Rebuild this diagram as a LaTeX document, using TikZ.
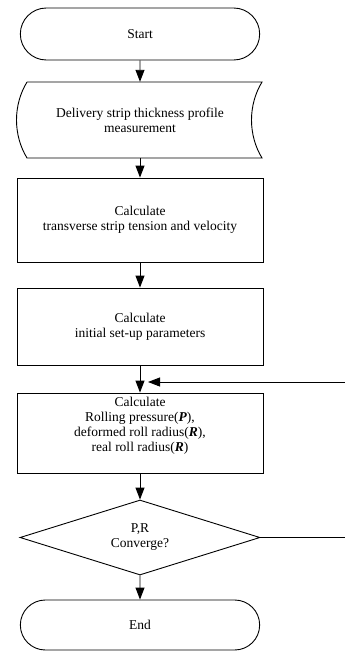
\documentclass[tikz,border=0pt]{standalone}
\usepackage{fontspec}
\setmainfont{Liberation Serif}
\usetikzlibrary{arrows.meta}
\usetikzlibrary{shapes.misc, shapes.geometric}

\begin{document}
\begin{tikzpicture}[
    x=1pt, y=-1pt,
    >={Triangle[length=12pt, width=9pt]},
    font=\fontsize{13.5}{15}\selectfont,
    % Inicio / fin (bordes redondeados)
    terminal/.style={
        draw, line width=0.9pt,
        rounded rectangle,
        minimum width=246pt
    },
    % Cajas de calculo
    process/.style={
        draw, line width=0.9pt,
        rectangle, align=center,
        minimum width=246pt
    },
    % Rombo de decision
    decision/.style={
        draw, line width=0.9pt,
        diamond, aspect=3.2, align=center, inner sep=0pt,
        minimum width=240pt, minimum height=75pt
    },
    flow/.style={->, line width=0.9pt}
]

    % marco de la figura
    \useasboundingbox (0,0) rectangle (345,654);

    % --- 1. NODOS ---
    \node[terminal, minimum height=52pt] (start) at (140,34) {Start};

    % Medicion (forma de cinta)
    \draw[line width=0.9pt] (27,82) -- (262,82)
        .. controls (248,105) and (248,135) .. (262,158)
        -- (27,158)
        .. controls (13,135) and (13,105) .. (27,82);
    \node[align=center, minimum width=246pt, minimum height=76pt] (deliv) at (140,120)
        {Delivery strip thickness profile\\measurement};

    \node[process, minimum height=84pt] (tension) at (140,220)
        {Calculate\\transverse strip tension and velocity};
    \node[process, minimum height=77pt] (setup) at (140,326.5)
        {Calculate\\initial set-up parameters};
    \node[process, minimum height=80pt] (roll) at (140,433)
        {Calculate\\Rolling pressure(\textbf{\textit{P}}),\\deformed roll radius(\textbf{\textit{R}}),\\real roll radius(\textbf{\textit{R}})\\[3pt]};
    \node[decision] (conv) at (140,537.5) {P,R\\Converge?};
    \node[terminal, minimum height=50pt] (stop) at (140,625) {End};

    % --- 2. FLECHAS ---
    \draw[flow] (start) -- (deliv);
    \draw[flow] (deliv) -- (tension);
    \draw[flow] (tension) -- (setup);
    \draw[flow] (setup) -- (roll);
    \draw[flow] (roll) -- (conv);
    \draw[flow] (conv) -- (stop);

    % Lazo de retorno (sale por la derecha)
    \coordinate (fbin) at (345,382);
    \coordinate (loop) at (148,382);
    \coordinate (fbout) at (345,537.5);
    \draw[flow] (fbin) -- (loop);
    \draw[line width=0.9pt] (conv.east) -- (fbout);

\end{tikzpicture}
\end{document}
